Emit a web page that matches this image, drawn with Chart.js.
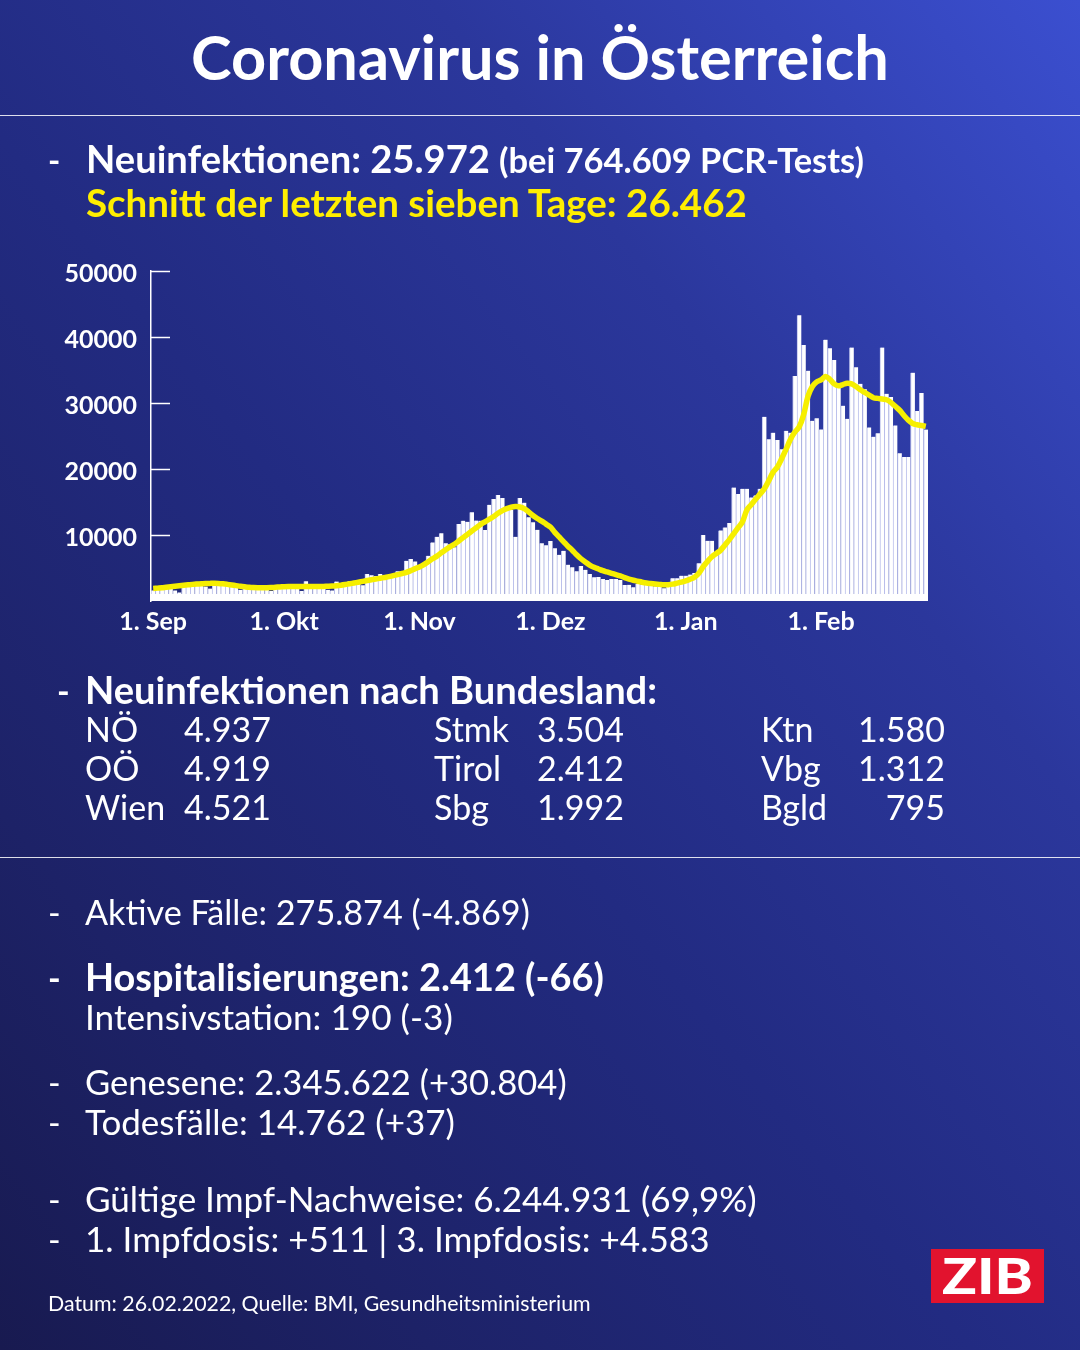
<!DOCTYPE html>
<html lang="de">
<head>
<meta charset="UTF-8">
<title>Coronavirus in Österreich</title>
<script src="https://cdn.jsdelivr.net/npm/chart.js"></script>
<style>
  body {
    margin: 0;
    width: 1080px;
    height: 1350px;
    overflow: hidden;
    position: relative;
    font-family: Lato, "Open Sans", sans-serif;
    background: linear-gradient(to bottom left, #3b4fd0 0%, #2b379c 30%, #222b82 55%, #1d2267 80%, #181a50 100%);
  }
  .rule {
    position: absolute;
    left: 0;
    width: 1080px;
    height: 1px;
    background: rgba(255, 255, 255, 0.85);
  }
  #chart-box {
    position: absolute;
    left: 40px;
    top: 250px;
    width: 900px;
    height: 390px;
  }
  svg {
    position: absolute;
    left: 0;
    top: 0;
  }
  svg text {
    font-family: Lato, "Open Sans", sans-serif;
    fill: #ffffff;
  }
  .b { font-weight: 700; }
  .r { font-weight: 400; }
</style>
</head>
<body>

<div class="rule" style="top:115px"></div>
<div class="rule" style="top:857px"></div>

<div id="chart-box">
  <canvas id="cases-chart"></canvas>
</div>

<svg width="1080" height="1350">
  <text class="b" x="540" y="80" text-anchor="middle" font-size="60" data-w="698">Coronavirus in Österreich</text>

  <text class="b" x="48" y="172" font-size="33">-</text>
  <text class="b" x="86" y="173" font-size="33" data-w="404">Neuinfektionen: 25.972</text>
  <text class="b" x="499" y="173" font-size="29" data-w="365">(bei 764.609 PCR-Tests)</text>
  <text class="b" x="86" y="217" font-size="33" data-w="661" style="fill:#ffee00">Schnitt der letzten sieben Tage: 26.462</text>

  <text class="b" x="57" y="704" font-size="34">-</text>
  <text class="b" x="85" y="704" font-size="34" data-w="572">Neuinfektionen nach Bundesland:</text>

  <text class="r" x="85" y="742" font-size="34">NÖ</text>
  <text class="r" x="184" y="742" font-size="34">4.937</text>
  <text class="r" x="434" y="742" font-size="34">Stmk</text>
  <text class="r" x="537" y="742" font-size="34">3.504</text>
  <text class="r" x="761" y="742" font-size="34">Ktn</text>
  <text class="r" x="945" y="742" font-size="34" text-anchor="end">1.580</text>

  <text class="r" x="85" y="781" font-size="34">OÖ</text>
  <text class="r" x="184" y="781" font-size="34">4.919</text>
  <text class="r" x="434" y="781" font-size="34">Tirol</text>
  <text class="r" x="537" y="781" font-size="34">2.412</text>
  <text class="r" x="761" y="781" font-size="34">Vbg</text>
  <text class="r" x="945" y="781" font-size="34" text-anchor="end">1.312</text>

  <text class="r" x="85" y="820" font-size="34">Wien</text>
  <text class="r" x="184" y="820" font-size="34">4.521</text>
  <text class="r" x="434" y="820" font-size="34">Sbg</text>
  <text class="r" x="537" y="820" font-size="34">1.992</text>
  <text class="r" x="761" y="820" font-size="34">Bgld</text>
  <text class="r" x="945" y="820" font-size="34" text-anchor="end">795</text>

  <text class="r" x="48" y="925" font-size="34">-</text>
  <text class="r" x="85" y="925" font-size="34" data-w="445">Aktive Fälle: 275.874 (-4.869)</text>

  <text class="b" x="48" y="991" font-size="34">-</text>
  <text class="b" x="85" y="991" font-size="34" data-w="519">Hospitalisierungen: 2.412 (-66)</text>
  <text class="r" x="85" y="1030" font-size="34" data-w="368">Intensivstation: 190 (-3)</text>

  <text class="r" x="48" y="1095" font-size="34">-</text>
  <text class="r" x="85" y="1095" font-size="34" data-w="482">Genesene: 2.345.622 (+30.804)</text>
  <text class="r" x="48" y="1135" font-size="34">-</text>
  <text class="r" x="85" y="1135" font-size="34" data-w="370">Todesfälle: 14.762 (+37)</text>

  <text class="r" x="48" y="1212" font-size="34">-</text>
  <text class="r" x="85" y="1212" font-size="34" data-w="672">Gültige Impf-Nachweise: 6.244.931 (69,9%)</text>
  <text class="r" x="48" y="1252" font-size="34">-</text>
  <text class="r" x="85" y="1252" font-size="34" data-w="625">1. Impfdosis: +511 | 3. Impfdosis: +4.583</text>

  <text class="r" x="48" y="1311" font-size="20" data-w="543">Datum: 26.02.2022, Quelle: BMI, Gesundheitsministerium</text>

  <rect x="931" y="1249" width="113" height="54" fill="#e2132e"></rect>
  <text x="987.5" y="1294" font-size="50" text-anchor="middle" textLength="91" lengthAdjust="spacingAndGlyphs" style="font-weight:900">ZIB</text>
</svg>

<script>
  // daily new infections (BMI), 1 Sep 2021 - 25 Feb 2022
  const casesSep = [1600, 2000, 2100, 2200, 1900, 1600, 1300, 2400, 2500, 2800, 2900, 2700, 2200, 1900, 3000,
    2800, 2700, 2500, 2300, 2000, 1700, 2400, 2300, 2200, 2100, 1900, 1800, 1500, 2300, 2300];
  const casesOct = [2200, 2100, 2000, 1900, 1500, 3000, 2400, 2300, 2200, 2100, 1700, 1600, 2950, 2700, 2800,
    3000, 2900, 2900, 2400, 4090, 3890, 3780, 4090, 3580, 3330, 3680, 4500, 4500, 6100, 6360, 6000];
  const casesNov = [4850, 5700, 6860, 8880, 9740, 10250, 8740, 8600, 8130, 11660, 12170, 12000, 13440, 12200, 12170,
    10760, 14590, 15450, 16060, 15600, 14090, 13800, 9740, 15600, 14900, 12680, 11920, 10790, 8740, 8430];
  const casesDec = [9100, 8000, 7000, 7600, 5500, 5100, 4500, 5300, 4740, 4090, 3590, 3640, 3330, 3180, 3330,
    3330, 3180, 2420, 2450, 2070, 2600, 2550, 2450, 2350, 2250, 2150, 1920, 2200, 3430, 3430, 3840];
  const casesJan = [3840, 4000, 4240, 5710, 10000, 9130, 9130, 7000, 10700, 11150, 11800, 17200, 16200, 17000, 17000,
    15700, 16000, 17000, 27900, 24500, 25500, 24400, 23000, 25800, 25500, 34100, 43300, 38800, 34900, 27300, 27700];
  const casesFeb = [26000, 39600, 38300, 36500, 33000, 29600, 27600, 38400, 35400, 32900, 32100, 26300, 24900, 25400,
    38400, 31400, 30900, 26600, 22400, 21800, 21800, 34600, 28800, 31500, 25972];

  // seven day average (yellow line)
  const avgSep = [1900, 1950, 2000, 2080, 2150, 2220, 2300, 2380, 2450, 2520, 2570, 2610, 2650, 2670, 2680,
    2660, 2600, 2520, 2430, 2330, 2230, 2150, 2080, 2040, 2020, 2010, 2010, 2030, 2080, 2130];
  const avgOct = [2170, 2200, 2210, 2200, 2190, 2180, 2180, 2190, 2200, 2210, 2230, 2260, 2320, 2400, 2500,
    2610, 2730, 2850, 2970, 3100, 3230, 3340, 3450, 3570, 3690, 3840, 4000, 4170, 4340, 4600, 4900];
  const avgNov = [5150, 5500, 5950, 6400, 6800, 7300, 7750, 8200, 8600, 9100, 9600, 10100, 10600, 11100, 11600,
    12000, 12400, 12800, 13300, 13700, 14000, 14200, 14300, 14250, 14000, 13500, 12950, 12500, 12100, 11650];
  const avgDec = [11200, 10400, 9700, 9000, 8300, 7700, 7000, 6400, 5900, 5450, 5100, 4850, 4600, 4400, 4200,
    4000, 3800, 3550, 3330, 3150, 3000, 2850, 2730, 2650, 2580, 2520, 2470, 2480, 2560, 2700, 2850];
  const avgJan = [3050, 3300, 3600, 4200, 5200, 6000, 6700, 7200, 7700, 8500, 9300, 10200, 11100, 12000, 13800,
    14600, 15400, 16200, 17000, 18200, 19500, 20300, 21600, 23000, 24500, 25600, 26400, 28200, 31000, 32500, 33200];
  const avgFeb = [33500, 34000, 33600, 32900, 32600, 32800, 33000, 32900, 32500, 32000, 31600, 31200, 30800, 30700,
    30600, 30500, 30100, 29500, 28900, 28100, 27400, 26900, 26700, 26600, 26462];

  const monthNames = ['Sep', 'Okt', 'Nov', 'Dez', 'Jan', 'Feb'];
  const monthDays = [30, 31, 30, 31, 31, 25];
  const yTickValues = [10000, 20000, 30000, 40000, 50000];

  const dayLabels = [];
  monthNames.forEach((m, i) => {
    for (let d = 1; d <= monthDays[i]; d++) dayLabels.push(d + '. ' + m);
  });

  const cases = [].concat(casesSep, casesOct, casesNov, casesDec, casesJan, casesFeb);
  const avg7 = [].concat(avgSep, avgOct, avgNov, avgDec, avgJan, avgFeb);

  const tickFont = { family: 'Lato', size: 25, weight: 'bold' };

  // short tick marks poking into the plot and the white base strip
  const axisMarks = {
    id: 'axisMarks',
    afterDatasetsDraw(chart) {
      const area = chart.chartArea;
      const c = chart.ctx;
      c.save();
      c.fillStyle = '#ffffff';
      c.fillRect(area.left, area.bottom - 7, area.right - area.left, 7);
      c.restore();
    },
    afterDraw(chart) {
      const area = chart.chartArea;
      const y = chart.scales.y;
      const c = chart.ctx;
      c.save();
      c.strokeStyle = '#ffffff';
      c.lineWidth = 1.5;
      yTickValues.forEach(v => {
        const py = Math.round(y.getPixelForValue(v)) + 0.5;
        c.beginPath();
        c.moveTo(area.left - 1, py);
        c.lineTo(area.left + 19, py);
        c.stroke();
      });
      c.restore();
    }
  };

  new Chart(document.getElementById('cases-chart'), {
    type: 'bar',
    data: {
      labels: dayLabels,
      datasets: [
        {
          type: 'line',
          data: avg7,
          borderColor: '#f6ef00',
          borderWidth: 5.5,
          pointRadius: 0,
          tension: 0.35,
          order: 0
        },
        {
          type: 'bar',
          data: cases,
          backgroundColor: '#ffffff',
          borderColor: '#bcc1ec',
          borderWidth: { left: 1, right: 0, top: 0, bottom: 0 },
          borderSkipped: false,
          barPercentage: 1,
          categoryPercentage: 1,
          order: 1
        }
      ]
    },
    options: {
      responsive: true,
      maintainAspectRatio: false,
      animation: false,
      layout: { padding: { top: 21, right: 12, left: 0, bottom: 0 } },
      plugins: {
        legend: { display: false },
        tooltip: { enabled: false }
      },
      scales: {
        x: {
          grid: { display: false, drawTicks: false },
          border: { display: false },
          ticks: {
            autoSkip: false,
            maxRotation: 0,
            padding: 6,
            color: '#ffffff',
            font: tickFont,
            callback: (v, i) => dayLabels[i].startsWith('1. ') ? dayLabels[i] : ''
          },
          afterFit: s => { s.height = 39; s.paddingLeft = 0; s.paddingRight = 0; }
        },
        y: {
          min: 0,
          max: 50000,
          grid: { display: false, drawTicks: false },
          border: { color: '#ffffff', width: 1.5 },
          ticks: {
            stepSize: 10000,
            padding: 14,
            labelOffset: 3,
            color: '#ffffff',
            font: tickFont,
            callback: v => v === 0 ? '' : String(v)
          },
          afterFit: s => { s.width = 111; s.paddingTop = 0; s.paddingBottom = 0; }
        }
      }
    },
    plugins: [axisMarks]
  });

  // squeeze each long text line to the width it has in the original
  function fitTexts() {
    document.querySelectorAll('text[data-w]').forEach(t => {
      if (!t.dataset.fs) t.dataset.fs = t.getAttribute('font-size');
      const fs = parseFloat(t.dataset.fs);
      t.setAttribute('font-size', fs);
      const len = t.getComputedTextLength();
      t.setAttribute('font-size', (fs * parseFloat(t.dataset.w) / len).toFixed(2));
    });
  }
  fitTexts();
  if (document.fonts) document.fonts.ready.then(fitTexts);
</script>

</body>
</html>
